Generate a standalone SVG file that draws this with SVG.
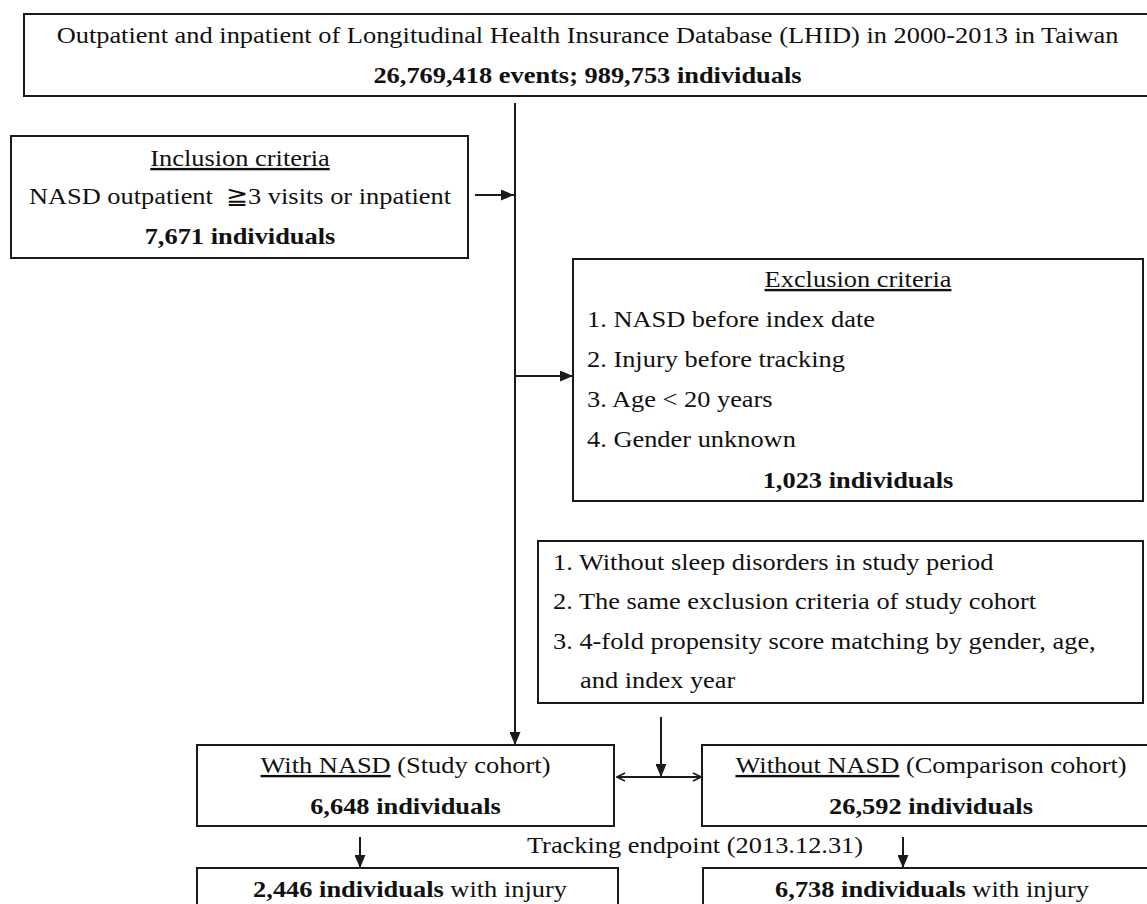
<svg xmlns="http://www.w3.org/2000/svg" width="1147" height="904" viewBox="0 0 1147 904">
<style>
text{font-family:"Liberation Serif","Times New Roman",serif;font-size:24px;fill:#111}
.b{font-weight:bold}
.u{text-decoration:underline}
.box{fill:#fff;stroke:#1a1a1a;stroke-width:2}
.ln{fill:none;stroke:#1a1a1a;stroke-width:2}
</style>
<defs>
<marker id="ah" markerUnits="userSpaceOnUse" markerWidth="13" markerHeight="11" refX="13" refY="5.5" orient="auto"><path d="M0,0 L13,5.5 L0,11 z" fill="#1a1a1a"/></marker>
<marker id="oh" markerUnits="userSpaceOnUse" markerWidth="10" markerHeight="10" refX="9" refY="5" orient="auto-start-reverse"><path d="M1,1 L9,5 L1,9" fill="none" stroke="#1a1a1a" stroke-width="1.6"/></marker>
</defs>
<rect width="1147" height="904" fill="#fff"/>
<g id="connectors">
<line class="ln" x1="515" y1="103" x2="515" y2="745" marker-end="url(#ah)"/>
<line class="ln" x1="475" y1="195" x2="514" y2="195" marker-end="url(#ah)"/>
<line class="ln" x1="515" y1="376" x2="573" y2="376" marker-end="url(#ah)"/>
<line class="ln" x1="661" y1="717" x2="661" y2="777" marker-end="url(#ah)"/>
<line class="ln" x1="617" y1="777" x2="701" y2="777" marker-start="url(#oh)" marker-end="url(#oh)"/>
<line class="ln" x1="360" y1="837" x2="360" y2="868" marker-end="url(#ah)"/>
<line class="ln" x1="903" y1="837" x2="903" y2="868" marker-end="url(#ah)"/>
</g>
<g id="lhid">
<rect class="box" x="24" y="14" width="1135" height="82"/>
<text transform="translate(587.5,43) scale(1.1,1)" text-anchor="middle">Outpatient and inpatient of Longitudinal Health Insurance Database (LHID) in 2000-2013 in Taiwan</text>
<text class="b" transform="translate(587.5,83) scale(1.1,1)" text-anchor="middle">26,769,418 events; 989,753 individuals</text>
</g>
<g id="inclusion">
<rect class="box" x="11" y="136" width="457" height="122"/>
<text class="u" transform="translate(240,166) scale(1.1,1)" text-anchor="middle">Inclusion criteria</text>
<text transform="translate(240,204) scale(1.1,1)" text-anchor="middle" xml:space="preserve">NASD outpatient  ≧3 visits or inpatient</text>
<text class="b" transform="translate(240,244) scale(1.1,1)" text-anchor="middle">7,671 individuals</text>
</g>
<g id="exclusion">
<rect class="box" x="573" y="259" width="570" height="242"/>
<text class="u" transform="translate(858,287) scale(1.1,1)" text-anchor="middle">Exclusion criteria</text>
<text transform="translate(587,327) scale(1.1,1)">1. NASD before index date</text>
<text transform="translate(587,367) scale(1.1,1)">2. Injury before tracking</text>
<text transform="translate(587,407) scale(1.1,1)">3. Age &lt; 20 years</text>
<text transform="translate(587,447) scale(1.1,1)">4. Gender unknown</text>
<text class="b" transform="translate(858,488) scale(1.1,1)" text-anchor="middle">1,023 individuals</text>
</g>
<g id="matching">
<rect class="box" x="538" y="541" width="605" height="162"/>
<text transform="translate(553,570) scale(1.1,1)">1. Without sleep disorders in study period</text>
<text transform="translate(553,609) scale(1.1,1)">2. The same exclusion criteria of study cohort</text>
<text transform="translate(553,649) scale(1.1,1)">3. 4-fold propensity score matching by gender, age,</text>
<text transform="translate(580,688) scale(1.1,1)">and index year</text>
</g>
<g id="study">
<rect class="box" x="197" y="745" width="417" height="81"/>
<text transform="translate(405.5,773) scale(1.1,1)" text-anchor="middle"><tspan class="u">With NASD</tspan> (Study cohort)</text>
<text class="b" transform="translate(405.5,814) scale(1.1,1)" text-anchor="middle">6,648 individuals</text>
</g>
<g id="comparison">
<rect class="box" x="702" y="745" width="460" height="81"/>
<text transform="translate(931,773) scale(1.1,1)" text-anchor="middle"><tspan class="u">Without NASD</tspan> (Comparison cohort)</text>
<text class="b" transform="translate(931,814) scale(1.1,1)" text-anchor="middle">26,592 individuals</text>
</g>
<g id="tracking">
<text transform="translate(695,853) scale(1.1,1)" text-anchor="middle">Tracking endpoint (2013.12.31)</text>
</g>
<g id="study-injury">
<rect class="box" x="197" y="868" width="421" height="60"/>
<text transform="translate(410,897) scale(1.1,1)" text-anchor="middle"><tspan class="b">2,446 individuals</tspan> with injury</text>
</g>
<g id="comparison-injury">
<rect class="box" x="703" y="868" width="459" height="60"/>
<text transform="translate(932,897) scale(1.1,1)" text-anchor="middle"><tspan class="b">6,738 individuals</tspan> with injury</text>
</g>
</svg>
